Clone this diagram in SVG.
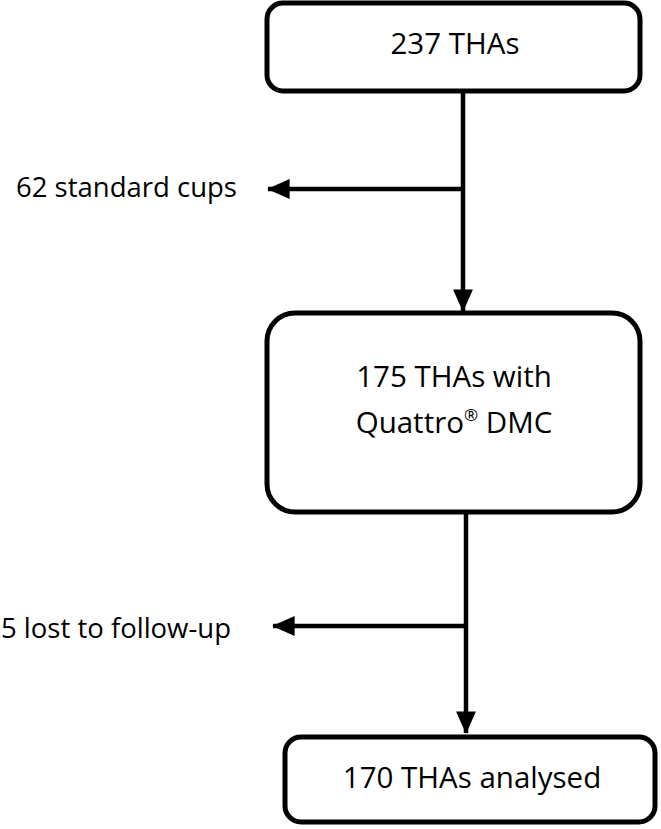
<svg xmlns="http://www.w3.org/2000/svg" width="661" height="829" viewBox="0 0 661 829">
<style>
.box{fill:#fff;stroke:#000;stroke-width:5}
.t{font-family:"Open Sans","Liberation Sans",sans-serif;fill:#000}
.bt{font-size:29.5px;text-anchor:middle}
.lb{font-size:27.5px}
.c{stroke:#000;stroke-width:4.5;fill:none}
</style>
<defs>
<marker id="ah" markerWidth="5" markerHeight="4.4" refX="4.8" refY="2.2" orient="auto" markerUnits="strokeWidth">
<path d="M0,0 L5,2.2 L0,4.4 Z" fill="#000"/>
</marker>
</defs>
<rect width="661" height="829" fill="#fff"/>
<g id="connectors">
<line class="c" x1="463" y1="91" x2="463" y2="311" marker-end="url(#ah)"/>
<line class="c" x1="465" y1="189" x2="268" y2="189" marker-end="url(#ah)"/>
<line class="c" x1="466" y1="512" x2="466" y2="733" marker-end="url(#ah)"/>
<line class="c" x1="468" y1="626" x2="273" y2="626" marker-end="url(#ah)"/>
</g>
<g id="n1">
<rect class="box" x="267" y="3" width="373" height="88" rx="16"/>
<text class="t bt" x="455" y="54">237 THAs</text>
</g>
<g id="n2">
<rect class="box" x="267" y="313" width="373" height="199" rx="28"/>
<text class="t bt" x="454" y="387">175 THAs with</text>
<text class="t bt" x="454" y="433">Quattro<tspan font-size="17" dy="-12">®</tspan><tspan dy="12"> DMC</tspan></text>
</g>
<g id="n3">
<rect class="box" x="285" y="737" width="370" height="85" rx="16"/>
<text class="t bt" x="472" y="788">170 THAs analysed</text>
</g>
<g id="l1">
<text class="t lb" x="16" y="197">62 standard cups</text>
</g>
<g id="l2">
<text class="t lb" x="1" y="638">5 lost to follow-up</text>
</g>
</svg>
